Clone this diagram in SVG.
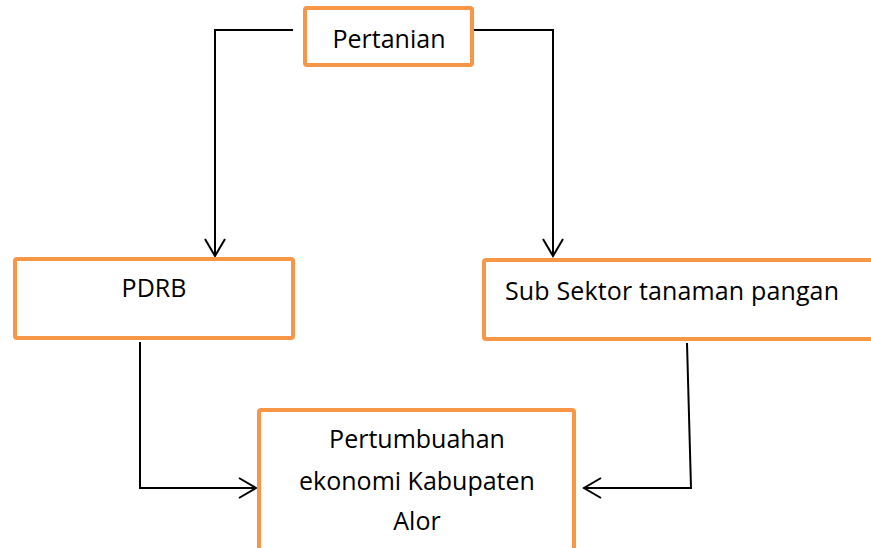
<svg xmlns="http://www.w3.org/2000/svg" width="871" height="548" viewBox="0 0 871 548">
  <style>
    .box { fill: #ffffff; stroke: #F79646; stroke-width: 4; }
    .lbl { font-family: "Open Sans", "Liberation Sans", sans-serif; font-size: 25px; fill: #000000; }
    .conn { fill: none; stroke: #000000; stroke-width: 2; }
  </style>
  <defs>
    <marker id="arr" viewBox="-20 -12 22 24" refX="0" refY="0" markerWidth="22" markerHeight="24" markerUnits="userSpaceOnUse" orient="auto" overflow="visible">
      <path d="M-17,-10 L0,0 L-17,10" fill="none" stroke="#000000" stroke-width="2"/>
    </marker>
  </defs>
  <rect width="871" height="548" fill="#ffffff"/>
  <g id="connectors">
    <path class="conn" d="M293,30 L215,30 L215,256" marker-end="url(#arr)"/>
    <path class="conn" d="M474,30 L553,30 L553,256" marker-end="url(#arr)"/>
    <path class="conn" d="M140,342 L140,488 L256,488" marker-end="url(#arr)"/>
    <path class="conn" d="M687,343 L691,488 L584,488" marker-end="url(#arr)"/>
  </g>
  <g id="pertanian">
    <rect class="box" x="305" y="8" width="167" height="57" rx="2"/>
    <text class="lbl" x="389" y="48" text-anchor="middle">Pertanian</text>
  </g>
  <g id="pdrb">
    <rect class="box" x="15" y="259" width="278" height="79" rx="2"/>
    <text class="lbl" x="154" y="297" text-anchor="middle">PDRB</text>
  </g>
  <g id="subsektor">
    <rect class="box" x="484" y="260" width="400" height="79" rx="2"/>
    <text class="lbl" x="505" y="300" textLength="334" lengthAdjust="spacing">Sub Sektor tanaman pangan</text>
  </g>
  <g id="pertumbuhan">
    <rect class="box" x="259" y="410" width="315" height="150" rx="2"/>
    <text class="lbl" x="417" y="448" text-anchor="middle">Pertumbuahan</text>
    <text class="lbl" x="417" y="490" text-anchor="middle">ekonomi Kabupaten</text>
    <text class="lbl" x="417" y="530" text-anchor="middle">Alor</text>
  </g>
</svg>
